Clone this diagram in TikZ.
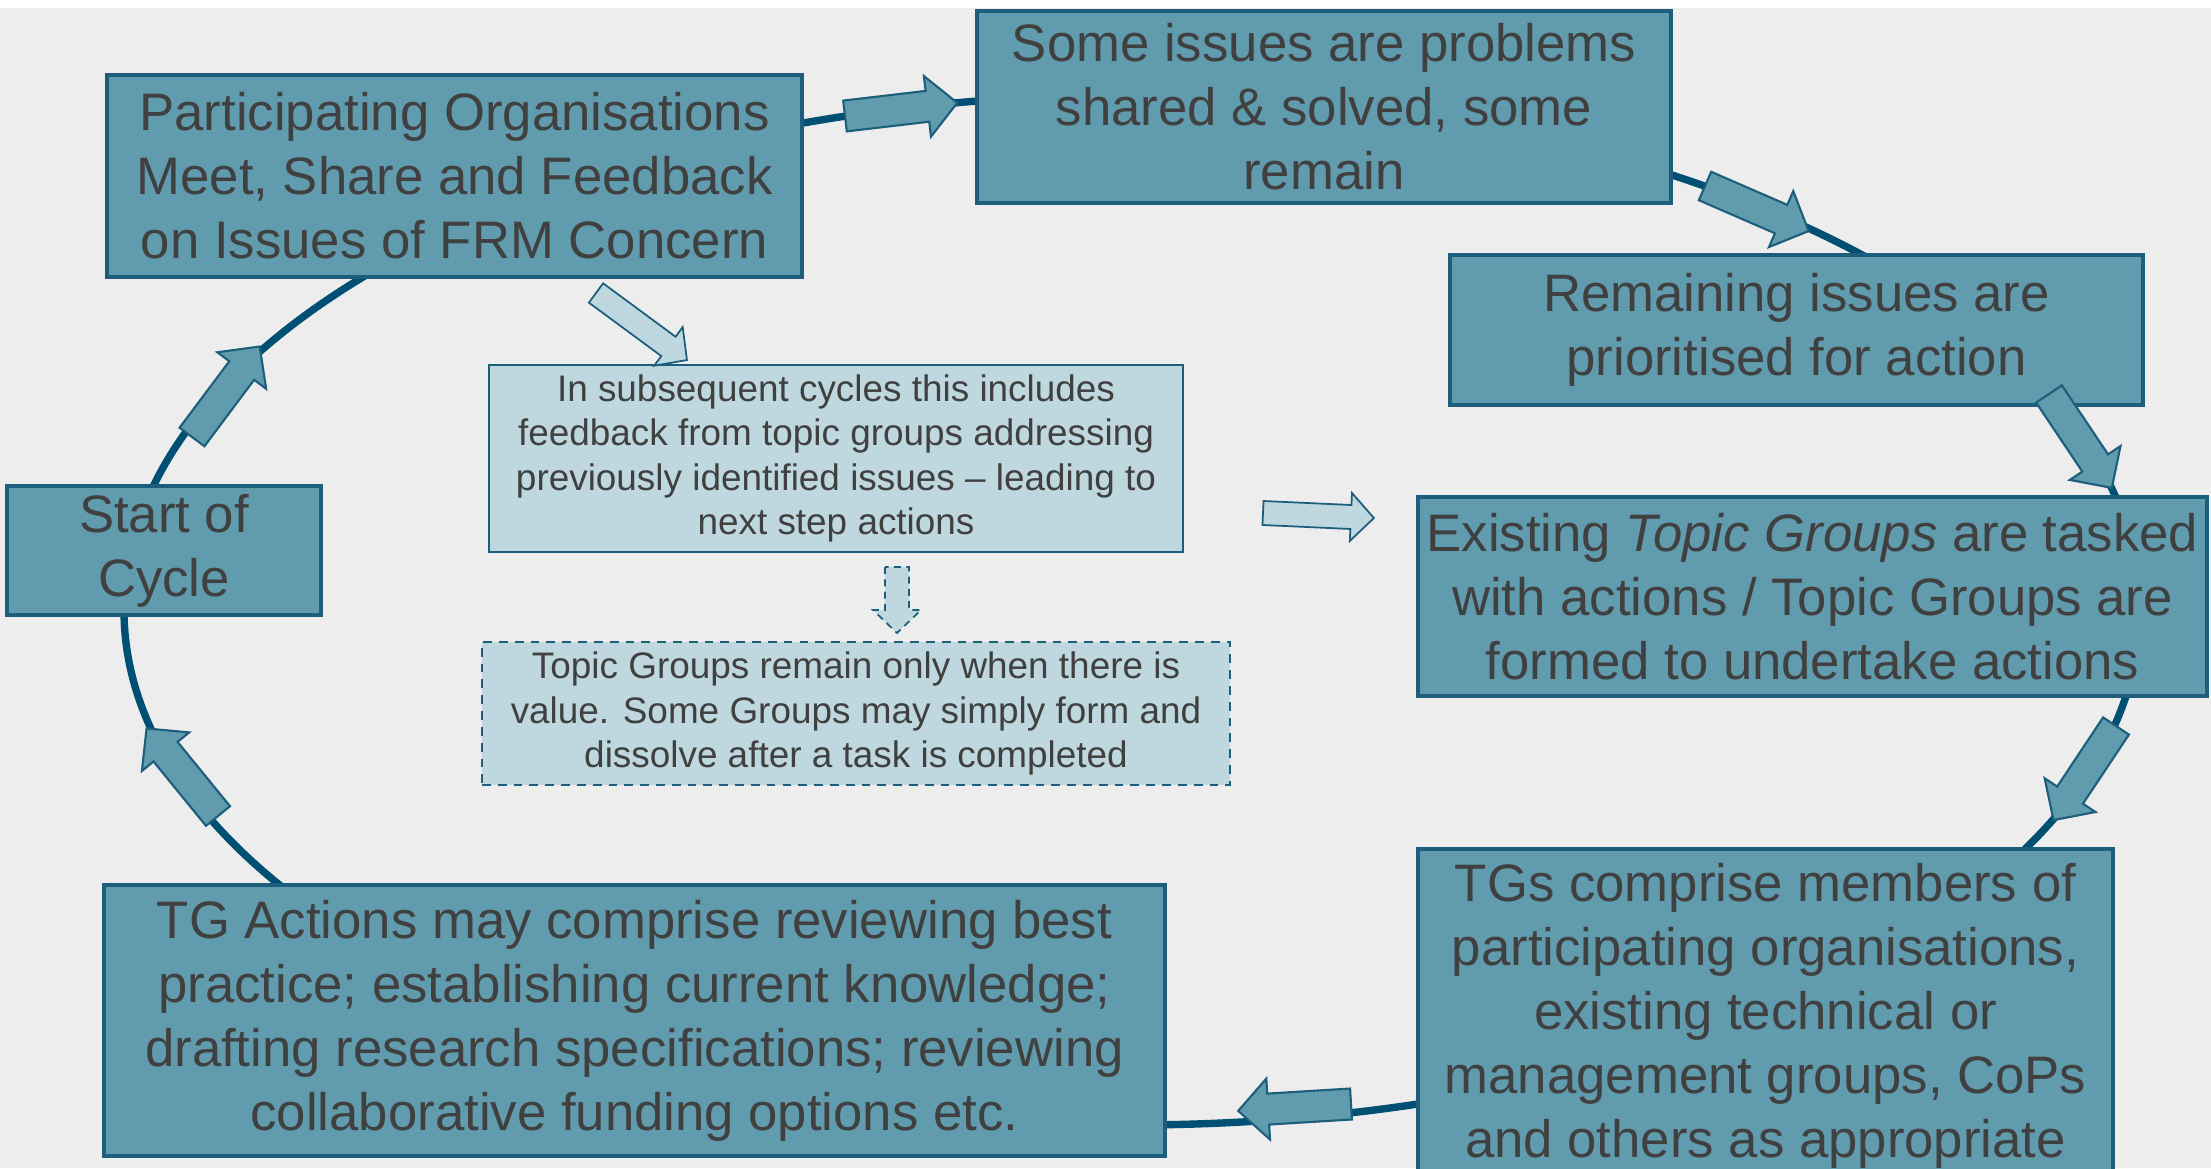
\documentclass[tikz,border=0pt]{standalone}
\usepackage{fontspec}
\setmainfont{Liberation Sans}
\definecolor{bgGray}{RGB}{237,237,237}
\definecolor{boxTeal}{RGB}{96,155,174}
\definecolor{edgeTeal}{RGB}{28,94,124}
\definecolor{ringTeal}{RGB}{0,80,115}
\definecolor{boxLight}{RGB}{191,216,223}
\definecolor{txtGray}{RGB}{64,64,64}
\tikzset{
  stage/.style={draw=edgeTeal, line width=0.9pt, fill=boxTeal, text=txtGray,
    align=center, inner sep=0pt, font=\fontsize{15}{18.2}\selectfont},
  note/.style={draw=edgeTeal, line width=0.7pt, fill=boxLight, text=txtGray,
    align=center, inner sep=0pt, font=\fontsize{10.5}{12.7}\selectfont},
  cycfill/.style={draw=edgeTeal, line width=0.6pt, fill=boxTeal},
  hintfill/.style={draw=edgeTeal, line width=0.5pt, fill=boxLight},
  pics/cycarrow/.style={code={
    \draw[cycfill] (0,-0.155) -- (0.83,-0.155) -- (0.83,-0.305) -- (1.13,0)
      -- (0.83,0.305) -- (0.83,0.155) -- (0,0.155) -- cycle;}},
  pics/hintarrow/.style 2 args={code={
    \draw[hintfill,#2] (0,-0.12) -- ({#1-0.23},-0.12) -- ({#1-0.23},-0.24) -- (#1,0)
      -- ({#1-0.23},0.24) -- ({#1-0.23},0.12) -- (0,0.12) -- cycle;}}
}

\begin{document}
\begin{tikzpicture}[line join=miter]
\useasboundingbox (0,0) rectangle (22.11,11.68);
\clip (0,0) rectangle (22.11,11.68);
% background
\fill[bgGray] (0,0) rectangle (22.11,11.60);
% the cycle
\coordinate (hub) at (11.32,5.58);
\draw[ringTeal, line width=2.1pt] (hub) ellipse [x radius=10.08, y radius=5.15];
% stages
\node[stage, minimum width=6.95cm, minimum height=2.02cm] (part) at (4.545,9.92)
  {Participating Organisations\\Meet, Share and Feedback\\on Issues of FRM Concern};
\node[stage, minimum width=6.94cm, minimum height=1.92cm] (some) at (13.24,10.61)
  {Some issues are problems\\shared \& solved, some\\remain};
\node[stage, minimum width=6.93cm, minimum height=1.50cm] (remain) at (17.965,8.38)
  {Remaining issues are\\prioritised for action};
\node[stage, minimum width=7.89cm, minimum height=1.99cm] (exist) at (18.125,5.715)
  {Existing \textit{Topic Groups} are tasked\\with actions / Topic Groups are\\formed to undertake actions};
\node[stage, minimum width=6.95cm, minimum height=3.33cm] (tgs) at (17.655,1.525)
  {TGs comprise members of\\participating organisations,\\existing technical or\\management groups, CoPs\\and others as appropriate};
\node[stage, minimum width=10.61cm, minimum height=2.71cm] (tga) at (6.345,1.475)
  {TG Actions may comprise reviewing best\\practice; establishing current knowledge;\\drafting research specifications; reviewing\\collaborative funding options etc.};
\node[stage, minimum width=3.14cm, minimum height=1.29cm] (start) at (1.64,6.175)
  {Start of\\Cycle};
% notes
\node[note, minimum width=6.94cm, minimum height=1.87cm] (info) at (8.36,7.095)
  {In subsequent cycles this includes\\feedback from topic groups addressing\\previously identified issues – leading to\\next step actions};
\node[note, dashed, dash pattern=on 2.5pt off 2pt, minimum width=7.48cm, minimum height=1.43cm] (valnote) at (8.56,4.545)
  {Topic Groups remain only when there is\\value. Some Groups may simply form and\\dissolve after a task is completed};
% arrows on the cycle
\pic[rotate=6.7] at (8.45,10.52) {cycarrow};
\pic[rotate=-23.5] at (17.05,9.82) {cycarrow};
\pic[rotate=-56.2] at (20.49,7.74) {cycarrow};
\pic[rotate=236.4] at (21.16,4.42) {cycarrow};
\pic[rotate=183.5] at (13.51,0.64) {cycarrow};
\pic[rotate=129.2] at (2.18,3.52) {cycarrow};
\pic[rotate=53.2] at (1.92,7.31) {cycarrow};
% hint arrows
\pic[rotate=-36.4] at (5.96,8.75) {hintarrow={1.13}{}};
\pic[rotate=-2.6] at (12.63,6.55) {hintarrow={1.11}{}};
\pic[rotate=-90] at (8.97,6.01) {hintarrow={0.66}{dashed, dash pattern=on 2pt off 1.5pt}};
\end{tikzpicture}
\end{document}
